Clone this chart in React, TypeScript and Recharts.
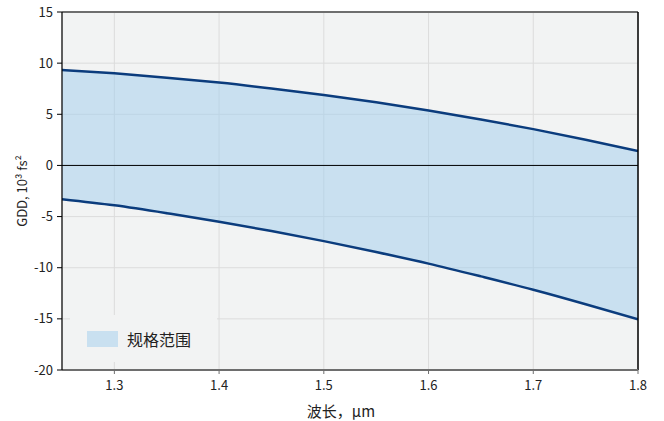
import React from 'react';
import {
  ComposedChart,
  Area,
  Line,
  XAxis,
  YAxis,
  CartesianGrid,
  ReferenceLine,
  Legend,
} from 'recharts';

// Wavelength samples (µm) and the GDD spec limits (10³ fs²)
const wavelengths = [1.25, 1.3, 1.35, 1.4, 1.45, 1.5, 1.55, 1.6, 1.65, 1.7, 1.75, 1.8];
const upperGdd = [9.33, 9.0, 8.58, 8.1, 7.52, 6.88, 6.17, 5.38, 4.5, 3.55, 2.51, 1.4];
const lowerGdd = [-3.3, -3.9, -4.67, -5.5, -6.42, -7.4, -8.47, -9.6, -10.85, -12.15, -13.57, -15.05];

const xTicks = [1.3, 1.4, 1.5, 1.6, 1.7, 1.8];
const yTicks = [-20, -15, -10, -5, 0, 5, 10, 15];

const specName = '规格范围';
const xTitle = '波长，μm';
const yTitle = 'GDD, 10³ fs²';

const data = wavelengths.map((wl, i) => ({
  wl,
  upper: upperGdd[i],
  lower: lowerGdd[i],
  range: [lowerGdd[i], upperGdd[i]],
}));

const FONT = '"Noto Sans CJK SC", "Noto Sans", sans-serif';
const LINE = '#0b3c7d';
const FILL = '#a0cdee';

const LegendBox = () => (
  <div
    style={{
      width: 147,
      height: 47,
      background: '#f2f3f3',
      display: 'flex',
      alignItems: 'center',
      fontFamily: FONT,
      fontSize: 16,
      color: '#222',
    }}
  >
    <span
      style={{
        display: 'inline-block',
        width: 31,
        height: 16,
        marginLeft: 17,
        marginRight: 9,
        background: '#c9e0f0',
      }}
    />
    <span>{specName}</span>
  </div>
);

export default function App() {
  return (
    <div style={{ position: 'absolute', left: 0, top: 0, width: 664, height: 421, background: '#fff' }}>
      <ComposedChart
        width={664}
        height={421}
        data={data}
        margin={{ top: 12, right: 26, bottom: 0, left: 0 }}
        style={{ fontFamily: FONT }}
      >
        <CartesianGrid stroke="#dcdcdc" strokeWidth={1} fill="#f2f3f3" fillOpacity={1} />
        <XAxis
          dataKey="wl"
          type="number"
          domain={[1.25, 1.8]}
          ticks={xTicks}
          allowDataOverflow
          height={51}
          tickSize={4}
          tickMargin={7}
          tick={{ fill: '#222', fontSize: 13, fontFamily: FONT }}
          axisLine={{ stroke: '#6e6e6e', strokeWidth: 2 }}
          tickLine={{ stroke: '#6e6e6e' }}
          label={{
            value: xTitle,
            position: 'insideBottom',
            offset: 4,
            dx: -9,
            fill: '#222',
            fontSize: 15,
            fontFamily: FONT,
          }}
        />
        <YAxis
          type="number"
          domain={[-20, 15]}
          ticks={yTicks}
          width={62}
          tickSize={5}
          tickMargin={4}
          tick={{ fill: '#222', fontSize: 13, fontFamily: FONT }}
          axisLine={{ stroke: '#000', strokeWidth: 1.2 }}
          tickLine={{ stroke: '#000' }}
          label={{
            value: yTitle,
            angle: -90,
            position: 'insideLeft',
            offset: 22,
            style: { textAnchor: 'middle' },
            fill: '#222',
            fontSize: 13,
            fontFamily: FONT,
          }}
        />
        <Area
          dataKey="range"
          type="natural"
          name={specName}
          fill={FILL}
          fillOpacity={0.5}
          stroke="none"
          isAnimationActive={false}
        />
        <Line dataKey="upper" type="natural" stroke={LINE} strokeWidth={2.5} dot={false} legendType="none" isAnimationActive={false} />
        <Line dataKey="lower" type="natural" stroke={LINE} strokeWidth={2.5} dot={false} legendType="none" isAnimationActive={false} />
        <ReferenceLine y={0} stroke="#000" strokeWidth={1} />
        <ReferenceLine y={15} stroke="#6e6e6e" strokeWidth={2} />
        <ReferenceLine x={1.8} stroke="#000" strokeWidth={1.5} />
        <Legend
          layout="horizontal"
          verticalAlign="middle"
          align="center"
          content={() => <LegendBox />}
          wrapperStyle={{ position: 'absolute', left: 70, top: 315, width: 147, height: 47 }}
        />
      </ComposedChart>
    </div>
  );
}
